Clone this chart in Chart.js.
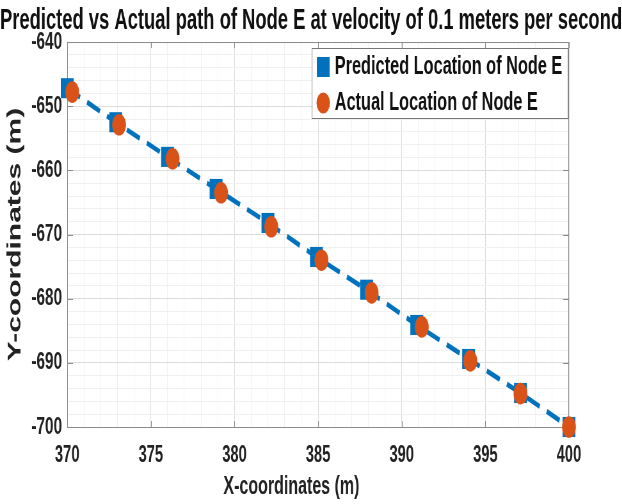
<!DOCTYPE html>
<html>
<head>
<meta charset="utf-8">
<script src="https://cdn.jsdelivr.net/npm/chart.js@4.4.1/dist/chart.umd.min.js"></script>
<style>
  html, body { margin: 0; padding: 0; background: #fff; overflow: hidden; }
  /* the reference is squeezed sideways, so draw wide and squeeze */
  #wrap { width: 972px; height: 504px; transform: scaleX(0.64); transform-origin: 0 0; }
</style>
</head>
<body>
<div id="wrap"><canvas id="pathChart"></canvas></div>
<script>
const chartTitle = 'Predicted vs Actual path of Node E at velocity of 0.1 meters per second';
const seriesNames = ['Predicted Location of Node E', 'Actual Location of Node E'];

// predicted path (blue squares, dashed line)
const predX = [370, 372.9, 376.0, 378.9, 382.0, 384.9, 387.9, 390.9, 394.0, 397.1, 400];
const predY = [-647.2, -652.5, -657.9, -662.9, -668.2, -673.5, -678.6, -684.1, -689.4, -694.7, -700];

// actual path (orange circles)
const actX = [370.3, 373.1, 376.3, 379.2, 382.2, 385.2, 388.2, 391.2, 394.1, 397.1, 400];
const actY = [-647.8, -652.9, -658.2, -663.5, -668.8, -674.0, -679.1, -684.4, -689.7, -694.8, -700];

const xTicks = [370, 375, 380, 385, 390, 395, 400];
const yTicks = [-700, -690, -680, -670, -660, -650, -640];

const blue   = '#0072BD';
const orange = '#D95319';
const axisColor = '#8a8a8a';
const font = 'Liberation Sans, Arial, sans-serif';

const toPoints = (xs, ys) => xs.map((x, i) => ({ x, y: ys[i] }));
const isMajor = (list, v) => list.some(t => Math.abs(t - v) < 1e-6);

// box round the plot + inward ticks, like matlab
const boxPlugin = {
    id: 'box',
    beforeDatasetsDraw(chart) {
        const { ctx, chartArea: a, scales } = chart;
        ctx.save();
        ctx.strokeStyle = axisColor;
        ctx.lineWidth = 1;
        ctx.strokeRect(a.left + 0.5, a.top + 0.5, a.right - a.left - 1, a.bottom - a.top);
        ctx.beginPath();
        xTicks.forEach(v => {
            const px = Math.round(scales.x.getPixelForValue(v)) + 0.5;
            ctx.moveTo(px, a.bottom); ctx.lineTo(px, a.bottom - 6);
            ctx.moveTo(px, a.top);    ctx.lineTo(px, a.top + 6);
        });
        yTicks.forEach(v => {
            const py = Math.round(scales.y.getPixelForValue(v)) + 0.5;
            ctx.moveTo(a.left, py);  ctx.lineTo(a.left + 9, py);
            ctx.moveTo(a.right, py); ctx.lineTo(a.right - 9, py);
        });
        ctx.stroke();
        ctx.restore();
    }
};

// legend sits inside the plot at top right
const legendPlugin = {
    id: 'insideLegend',
    afterDraw(chart) {
        const { ctx } = chart;
        const left = 487, top = 48, right = 887, bottom = 118;
        ctx.save();
        ctx.fillStyle = '#fff';
        ctx.fillRect(left, top, right - left, bottom - top);
        ctx.strokeStyle = '#777';
        ctx.lineWidth = 1;
        ctx.strokeRect(left + 0.5, top + 0.5, right - left, bottom - top);

        const rows = [67, 103];
        // square
        ctx.fillStyle = blue;
        ctx.fillRect(495, rows[0] - 10, 20, 20);
        // circle
        ctx.fillStyle = orange;
        ctx.beginPath();
        ctx.arc(505, rows[1], 10.5, 0, Math.PI * 2);
        ctx.fill();

        ctx.fillStyle = '#111';
        ctx.font = 'bold 25.5px ' + font;
        ctx.textBaseline = 'middle';
        ctx.fillText(seriesNames[0], 523, rows[0]);
        ctx.fillText(seriesNames[1], 523, rows[1]);
        ctx.restore();
    }
};

new Chart(document.getElementById('pathChart').getContext('2d'), {
    type: 'scatter',
    data: {
        datasets: [
            {
                label: seriesNames[0],
                data: toPoints(predX, predY),
                showLine: true,
                borderColor: blue,
                borderWidth: 5,
                borderDash: [22, 12],
                backgroundColor: blue,
                pointStyle: 'rect',
                pointRadius: 14.2,
                pointBorderWidth: 0,
                pointBackgroundColor: blue,
                clip: false,
                order: 1
            },
            {
                label: seriesNames[1],
                data: toPoints(actX, actY),
                showLine: false,
                backgroundColor: orange,
                borderColor: orange,
                pointStyle: 'circle',
                pointRadius: 10.8,
                pointBorderWidth: 0,
                clip: false,
                order: 0
            }
        ]
    },
    options: {
        responsive: true,
        maintainAspectRatio: false,
        animation: false,
        devicePixelRatio: 1,
        layout: { padding: 0 },
        plugins: {
            legend: { display: false },
            tooltip: { enabled: false },
            title: {
                display: true,
                text: chartTitle,
                color: '#111',
                font: { family: font, size: 29.2, weight: 'bold' },
                padding: { top: 3, bottom: 4 }
            }
        },
        scales: {
            x: {
                type: 'linear',
                min: 370,
                max: 400,
                ticks: {
                    stepSize: 1,
                    autoSkip: false,
                    maxRotation: 0,
                    padding: 15,
                    color: '#222',
                    font: { family: font, size: 23, weight: 'bold' },
                    callback: v => isMajor(xTicks, v) ? String(v) : ''
                },
                grid: {
                    drawTicks: false,
                    color: ctx => isMajor(xTicks, ctx.tick.value) ? '#dcdcdc' : '#f0f0f0'
                },
                border: { color: axisColor },
                title: {
                    display: true,
                    // trailing spaces pull the centred title left, as in the reference
                    text: 'X-coordinates (m)' + '\u00a0'.repeat(12),
                    color: '#222',
                    font: { family: font, size: 25, weight: 'bold' },
                    padding: { top: 0, bottom: 2 }
                },
                afterFit: s => { s.height = 77; }
            },
            y: {
                type: 'linear',
                min: -700,
                max: -640,
                ticks: {
                    stepSize: 2,
                    autoSkip: false,
                    padding: 8,
                    color: '#222',
                    font: { family: font, size: 24, weight: 'bold' },
                    callback: v => isMajor(yTicks, v) ? String(v) : ''
                },
                grid: {
                    drawTicks: false,
                    color: ctx => isMajor(yTicks, ctx.tick.value) ? '#dcdcdc' : '#f0f0f0'
                },
                border: { color: axisColor },
                title: {
                    display: true,
                    text: 'Y-coordinates (m)',
                    color: '#222',
                    font: { family: font, size: 30, weight: 'bold' },
                    padding: { top: 6, bottom: 0 }
                },
                afterFit: s => { s.width = 105; }
            },
            // empty right-hand axis only to keep room right of the plot
            yGap: {
                type: 'linear',
                position: 'right',
                display: true,
                min: -700,
                max: -640,
                ticks: { display: false },
                grid: { display: false },
                border: { display: false },
                afterFit: s => { s.width = 83; }
            }
        }
    },
    plugins: [boxPlugin, legendPlugin]
});
</script>
</body>
</html>
